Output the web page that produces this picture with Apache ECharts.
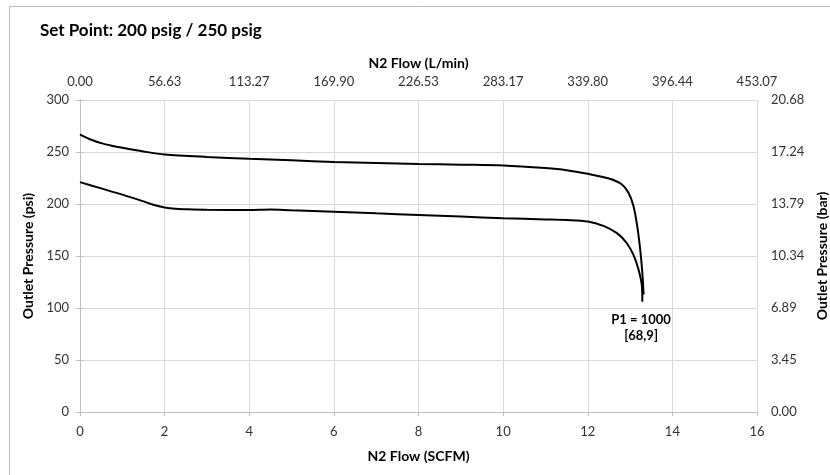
<!DOCTYPE html>
<html>
<head>
<meta charset="utf-8">
<script src="https://cdn.jsdelivr.net/npm/echarts@6/dist/echarts.min.js"></script>
<style>html,body{margin:0;padding:0;background:#fff;}#c{width:830px;height:475px;}</style>
</head>
<body>
<div id="c"></div>
<script>
// Flow (SCFM), outlet pressure (psi) — upper curve (250 psig set point)
var upperX = [0, 0.1, 0.25, 0.5, 0.75, 1, 1.5, 2, 3, 4, 5, 6, 7, 8, 9, 10, 11, 11.5, 12, 12.5, 12.8, 12.96, 13.08, 13.17, 13.24, 13.29, 13.32];
var upperY = [267, 264.8, 262, 258.5, 256, 254, 250.5, 247.7, 245.3, 243.5, 242, 240.5, 239.5, 238.5, 237.8, 237, 234.5, 232.5, 229, 224.5, 219, 211, 198, 178.5, 156, 134, 113];
// lower curve (200 psig set point)
var lowerX = [0, 0.5, 1, 1.5, 1.75, 2, 2.25, 2.5, 3, 4, 4.5, 5, 6, 7, 8, 9, 10, 11, 11.5, 12, 12.37, 12.69, 12.92, 13.08, 13.2, 13.28, 13.29];
var lowerY = [221, 215, 209, 202.5, 199, 196.7, 195.4, 195, 194.5, 194.3, 194.8, 194, 192.6, 191, 189.5, 188, 186.3, 185.2, 184.6, 183.2, 179, 172, 162.5, 151, 137, 121, 106];
// secondary axis tick labels
var topTicks = ['0.00', '56.63', '113.27', '169.90', '226.53', '283.17', '339.80', '396.44', '453.07'];
var rightTicks = ['0.00', '3.45', '6.89', '10.34', '13.79', '17.24', '20.68'];
var titleText = 'Set Point: 200 psig / 250 psig';
var noteLines = ['P1 = 1000', '[68,9]'];
var notePos = [13.26, 80.6];

function pairs(xs, ys) { return xs.map(function (x, i) { return [x, ys[i]]; }); }

var FONT = 'Lato';
var chart = echarts.init(document.getElementById('c'), null, { renderer: 'canvas' });
var labelStyle = { fontFamily: FONT, fontSize: 13, color: '#333' };
var nameStyle = { fontFamily: FONT, fontSize: 14, fontWeight: 'bold', color: '#000' };

chart.setOption({
  animation: false,
  backgroundColor: '#fff',
  title: {
    text: titleText, left: 35, top: 17,
    textStyle: { fontFamily: FONT, fontSize: 17, fontWeight: 'bold', color: '#000' }
  },
  grid: { left: 80, right: 73, top: 100, bottom: 63, containLabel: false, outerBoundsMode: 'none' },
  xAxis: [
    {
      type: 'value', position: 'bottom', min: 0, max: 16, interval: 2,
      name: 'N2 Flow (SCFM)', nameLocation: 'middle', nameGap: 37, nameTextStyle: nameStyle,
      axisLine: { show: true, lineStyle: { color: '#bfbfbf' } },
      axisTick: { show: true, length: 4, lineStyle: { color: '#bfbfbf' } },
      axisLabel: Object.assign({ margin: 13 }, labelStyle),
      splitLine: { show: true, lineStyle: { color: '#d9d9d9' } }
    },
    {
      type: 'value', position: 'top', min: 0, max: 16, interval: 2,
      name: 'N2 Flow (L/min)', nameLocation: 'middle', nameGap: 28, nameTextStyle: nameStyle,
      axisLine: { show: false },
      axisTick: { show: false },
      axisLabel: Object.assign({ margin: 12, formatter: function (v) { return topTicks[Math.round(v / 2)]; } }, labelStyle),
      splitLine: { show: false }
    }
  ],
  yAxis: [
    {
      type: 'value', position: 'left', min: 0, max: 300, interval: 50,
      name: 'Outlet Pressure (psi)', nameLocation: 'middle', nameGap: 33, nameTextStyle: nameStyle,
      axisLine: { show: true, lineStyle: { color: '#bfbfbf' } },
      axisTick: { show: true, length: 4, lineStyle: { color: '#bfbfbf' } },
      axisLabel: Object.assign({ margin: 11 }, labelStyle),
      splitLine: { show: true, lineStyle: { color: '#d9d9d9' } }
    },
    {
      type: 'value', position: 'right', min: 0, max: 300, interval: 50,
      name: 'Outlet Pressure (bar)', nameLocation: 'middle', nameGap: 54, nameTextStyle: nameStyle,
      axisLine: { show: true, lineStyle: { color: '#bfbfbf' } },
      axisTick: { show: true, length: 4, lineStyle: { color: '#bfbfbf' } },
      axisLabel: Object.assign({ margin: 14, formatter: function (v) { return rightTicks[Math.round(v / 50)]; } }, labelStyle),
      splitLine: { show: false }
    }
  ],
  series: [
    {
      type: 'line', data: pairs(upperX, upperY), xAxisIndex: 0, yAxisIndex: 0,
      showSymbol: false, smooth: 0.3,
      lineStyle: { color: '#000', width: 2 }
    },
    {
      type: 'line', data: pairs(lowerX, lowerY), xAxisIndex: 0, yAxisIndex: 0,
      showSymbol: false, smooth: 0.3,
      lineStyle: { color: '#000', width: 2 },
      markPoint: {
        symbol: 'circle', symbolSize: 1, itemStyle: { color: 'rgba(0,0,0,0)' },
        data: [{ coord: notePos }],
        label: {
          show: true, position: 'inside',
          formatter: noteLines.join('\n'),
          fontFamily: FONT, fontSize: 13, fontWeight: 'bold', color: '#000', lineHeight: 16, align: 'center', verticalAlign: 'middle'
        }
      }
    }
  ],
  graphic: [
    { type: 'rect', shape: { x: 9.5, y: 6.5, width: 900, height: 600 }, style: { fill: 'none', stroke: '#bfbfbf', lineWidth: 1 }, silent: true }
  ]
});
</script>
</body>
</html>
